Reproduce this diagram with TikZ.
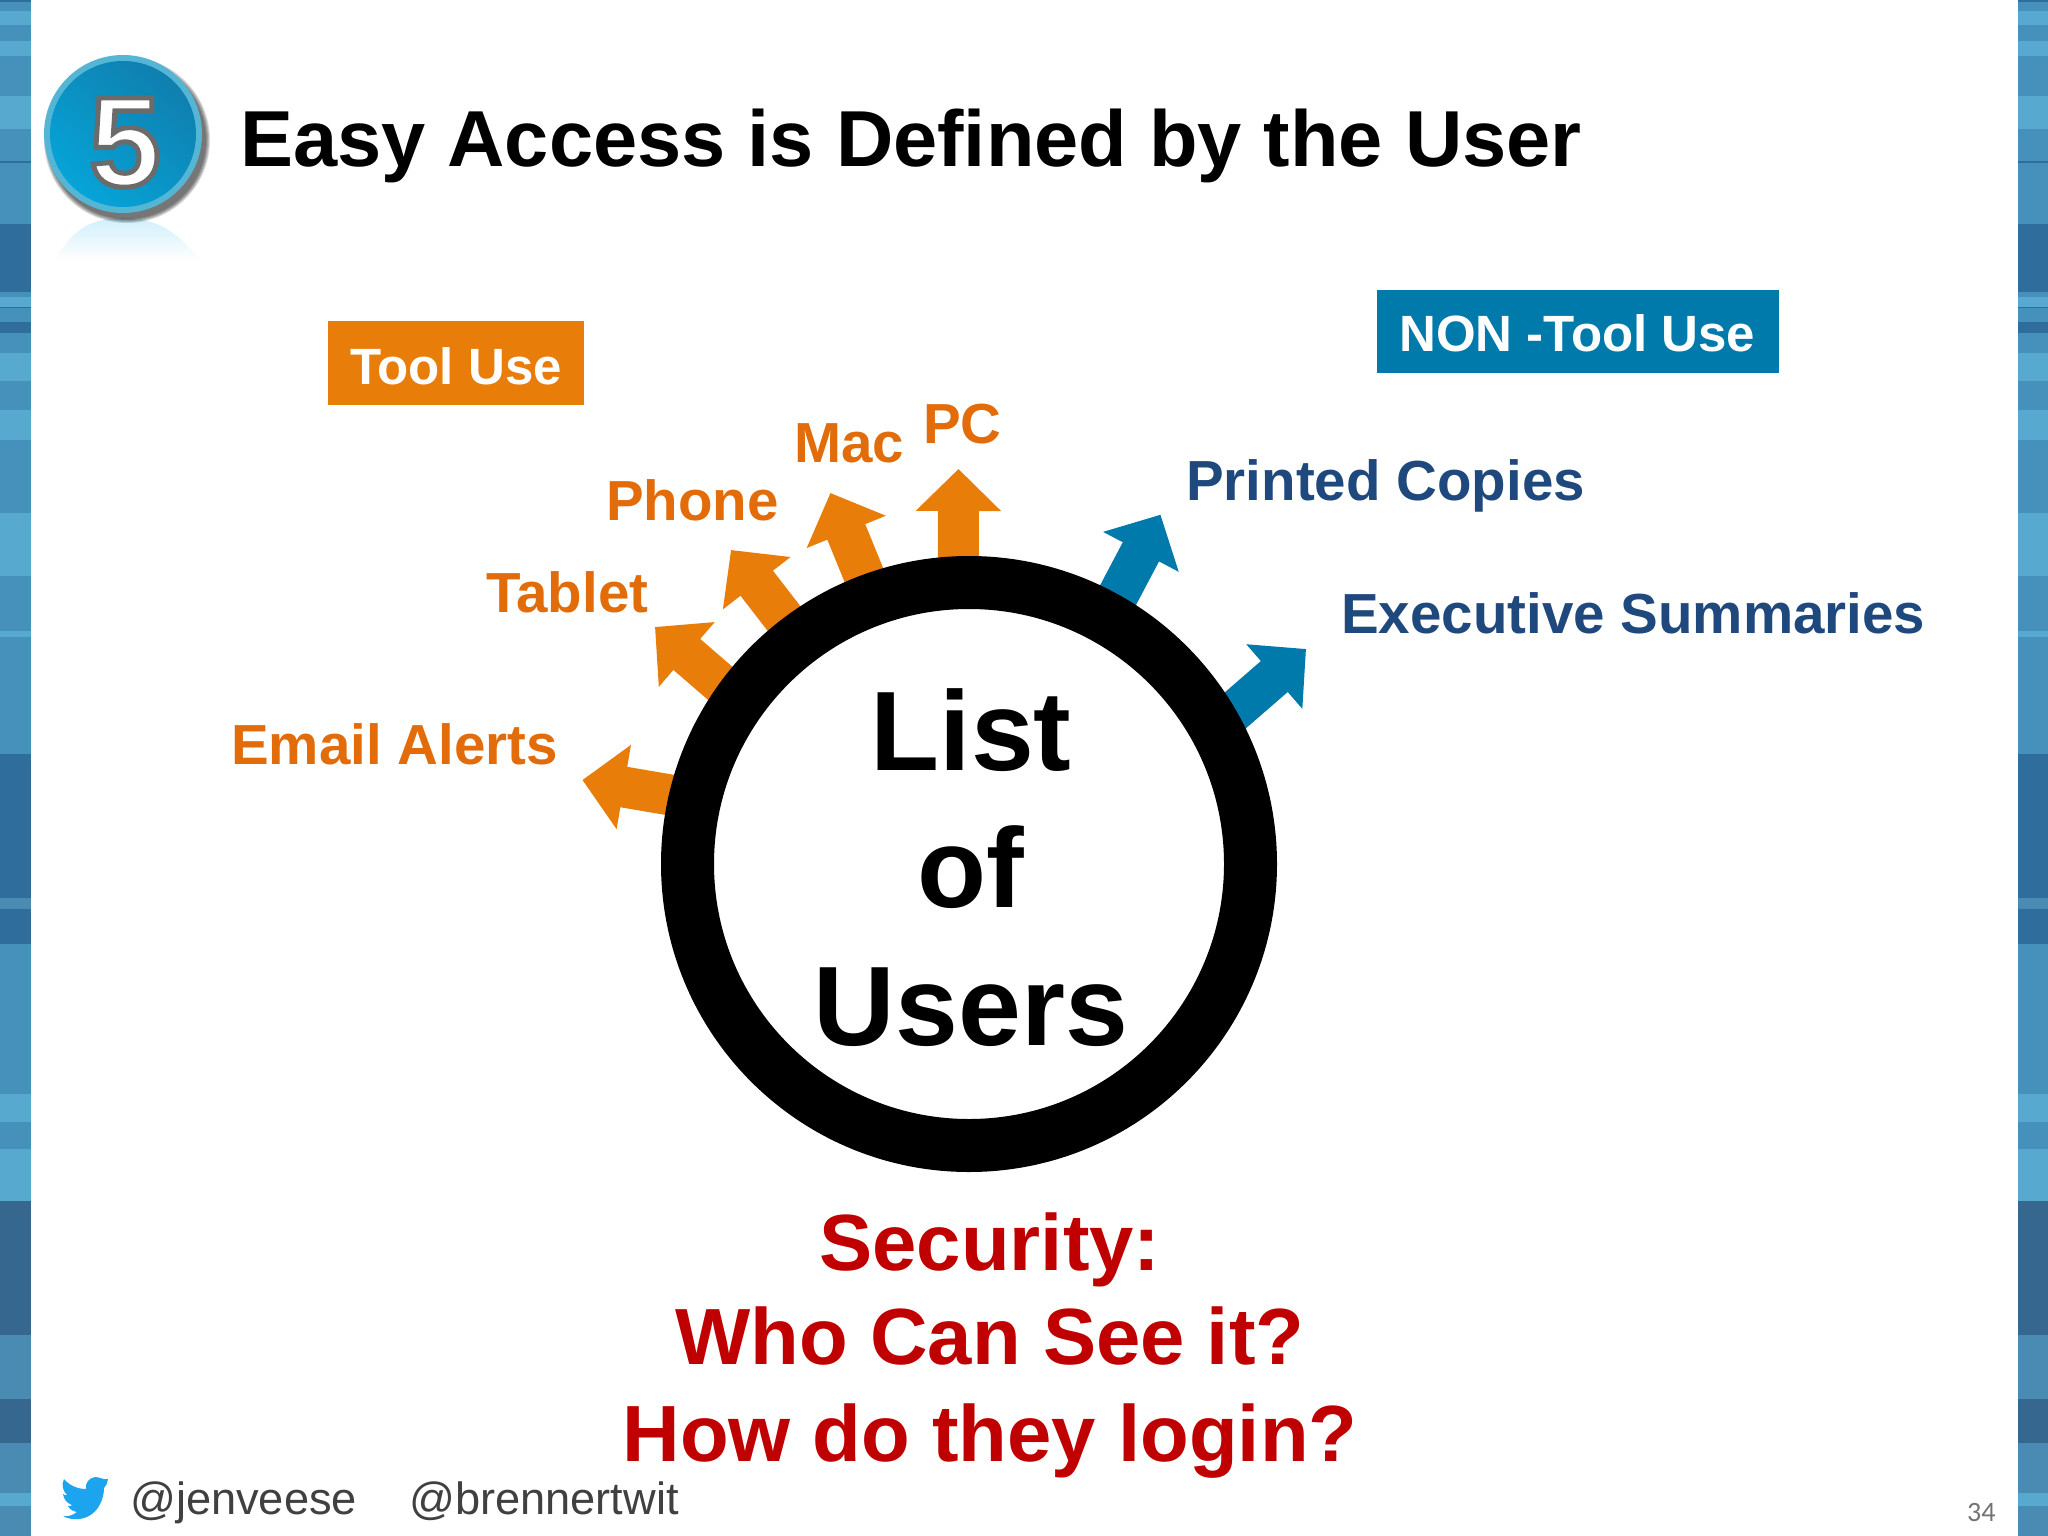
\documentclass[tikz,border=0pt]{standalone}
\usepackage{fontspec}
\setmainfont{Liberation Sans}
\newfontfamily\pagefont{Carlito}
\usetikzlibrary{arrows.meta,fadings,backgrounds}
\definecolor{stL}{HTML}{58A9D0}
\definecolor{stM}{HTML}{4691BC}
\definecolor{stD}{HTML}{2F6E9C}
\definecolor{stE}{HTML}{35678F}
\definecolor{stF}{HTML}{4A8BB3}
\definecolor{orangeA}{HTML}{E87D0A}
\definecolor{orangeT}{HTML}{E36C0A}
\definecolor{blueA}{HTML}{007AAB}
\definecolor{navyT}{HTML}{1F497D}
\definecolor{redT}{HTML}{C00000}
\definecolor{grayT}{HTML}{404040}
\definecolor{birdc}{HTML}{1CA4EE}
\definecolor{badgeR}{HTML}{55B5D5}
\definecolor{badgeA}{HTML}{0F7FAE}
\definecolor{badgeB}{HTML}{06A4D8}
\tikzfading[name=reflfade,top color=transparent!55,bottom color=transparent!100]
\tikzset{
  lbl/.style={anchor=base west,inner sep=0pt,font=\bfseries\fontsize{56.5}{66}\selectfont},
  orangelbl/.style={lbl,text=orangeT},
  navylbl/.style={lbl,text=navyT},
  tagbox/.style={rectangle,inner sep=0pt,text=white,font=\bfseries\fontsize{51}{60}\selectfont},
  usearrow/.style={line width=41pt,shorten <=-12pt,-{Triangle[length=42pt,width=83pt]}},
  handle/.style={anchor=base west,inner sep=0pt,text=grayT,font=\fontsize{45.2}{55}\selectfont},
  seclbl/.style={anchor=base,inner sep=0pt,text=redT,font=\bfseries\fontsize{79.7}{96}\selectfont},
}
\begin{document}
\begin{tikzpicture}[x=1pt,y=-1pt]
\useasboundingbox (0,0) rectangle (2048,1536);
\begin{pgfonlayer}{background}
\fill[white] (0,0) rectangle (2048,1536);
\end{pgfonlayer}
% side bands
\foreach \a/\b/\c in {0/5/stD,5/22/stM,22/50/stL,50/83/stM,83/115/stL,115/195/stM,195/262/stL,262/328/stM,328/332/stD,332/457/stM,457/595/stD,595/605/stM,605/625/stL,625/628/stD,628/655/stM,655/678/stD,678/718/stM,718/775/stL,775/835/stM,835/895/stL,895/1045/stM,1045/1172/stL,1172/1285/stM,1285/1297/stL,1297/1535/stM,1535/1568/stD}{
  \fill[\c] (0,\a/2.036) rectangle (31,\b/2.036+0.5);
  \fill[\c] (2018,\a/2.036) rectangle (2048,\b/2.036+0.5);
}
\foreach \a/\b/\c in {0/268/stD,268/292/stF,292/362/stD,362/668/stM,668/725/stL,725/780/stM,780/885/stL,885/1158/stE,1158/1288/stF,1288/1378/stE,1378/1480/stF,1480/1506/stL,1506/1568/stF}{
  \fill[\c] (0,766+\a/2.036) rectangle (31,766+\b/2.036+0.5);
  \fill[\c] (2018,766+\a/2.036) rectangle (2048,766+\b/2.036+0.5);
}
% badge
\fill[cyan!40!white,path fading=reflfade] (55,260) .. controls (70,235) and (85,218) .. (123,218) .. controls (160,218) and (180,235) .. (200,260) -- cycle;
\foreach \r in {83,82,81,80,79}{\fill[black,opacity=.14] (127,140) circle (\r);}
\fill[badgeR] (123,134) circle (79);
\shade[top color=badgeA,bottom color=badgeB,shading angle=-40] (123,134) circle (73);
\node[anchor=base,inner sep=0pt,text=white,font=\bfseries\fontsize{128}{150}\selectfont] (five) at (125,186) {\special{pdf:code 2 Tr 5 w 0.42 0.42 0.42 RG}5\special{pdf:code 0 Tr 1 w}};
% title
\node[anchor=base west,inner sep=0pt,text=black,font=\bfseries\fontsize{79.4}{90}\selectfont] (title) at (240,167) {Easy Access is Defined by the User};
% tags
\fill[orangeA] (328,321) rectangle (584,405);
\node[tagbox,anchor=base west] (tool) at (350,384) {Tool Use};
\fill[blueA] (1377,290) rectangle (1779,373);
\node[tagbox,anchor=base west] (non) at (1399,351) {NON -Tool Use};
% ring
\node[circle,draw=black,fill=white,line width=53pt,minimum size=563pt,inner sep=0pt,
      font=\bfseries\fontsize{113}{137.5}\selectfont] (ring) at (969,864)
      {\hspace{4pt}\raisebox{-16pt}[\height][\depth]{\begin{tabular}{@{}c@{}}List\\of\\Users\end{tabular}}};
% arrows
\coordinate (tipEmail) at (582.4,780);
\coordinate (tipTablet) at (655,627);
\coordinate (tipPhone) at (731,550);
\coordinate (tipMac) at (830.4,493);
\coordinate (tipPC) at (958.5,469);
\coordinate (tipPrinted) at (1160.5,514.7);
\coordinate (tipExec) at (1306,649);
\begin{pgfonlayer}{background}
\draw[usearrow,orangeA] (ring.167.5) -- (tipEmail);
\draw[usearrow,orangeA] (ring.144) -- (tipTablet);
\draw[usearrow,orangeA] (ring.127) -- (tipPhone);
\draw[usearrow,orangeA] (ring.110) -- (tipMac);
\draw[usearrow,orangeA] (ring.92) -- (tipPC);
\draw[usearrow,blueA] (ring.61.4) -- (tipPrinted);
\draw[usearrow,blueA] (ring.30.9) -- (tipExec);
\end{pgfonlayer}
% labels
\node[orangelbl] (lEmail) at (231,764) {Email Alerts};
\node[orangelbl] (lTablet) at (486,612) {Tablet};
\node[orangelbl] (lPhone) at (606,520) {Phone};
\node[orangelbl] (lMac) at (794,462) {Mac};
\node[orangelbl] (lPC) at (923,443) {PC};
\node[navylbl] (lPrinted) at (1186,500) {Printed Copies};
\node[navylbl] (lExec) at (1341,633) {Executive Summaries};
% security
\node[seclbl] (sec1) at (990,1270.5) {Security:};
\node[seclbl] (sec2) at (990,1364.5) {Who Can See it?};
\node[seclbl] (sec3) at (990,1461) {How do they login?};
% footer
\fill[birdc] (108,1479) .. controls (103,1480) and (100,1477) .. (95,1477)
  .. controls (89,1478) and (85,1483) .. (86,1489)
  .. controls (77,1489) and (69,1485) .. (64,1479)
  .. controls (61,1485) and (63,1491) .. (67,1495)
  .. controls (66,1496) and (65,1495) .. (63,1494)
  .. controls (64,1500) and (67,1503) .. (72,1505)
  .. controls (72,1506) and (70,1506) .. (68,1506)
  .. controls (70,1510) and (73,1511) .. (77,1512)
  .. controls (73,1515) and (68,1517) .. (63,1516)
  .. controls (72,1521) and (84,1520) .. (92,1514)
  .. controls (100,1508) and (104,1497) .. (104,1488)
  .. controls (106,1486) and (107,1484) .. (108,1479) -- cycle;
\node[handle] (h1) at (130,1514) {@jenveese};
\node[handle] (h2) at (409,1514) {@brennertwit};
\node[anchor=base west,inner sep=0pt,text=black!55,font=\pagefont\fontsize{28}{32}\selectfont] (page) at (1967,1521) {34};
\end{tikzpicture}
\end{document}
